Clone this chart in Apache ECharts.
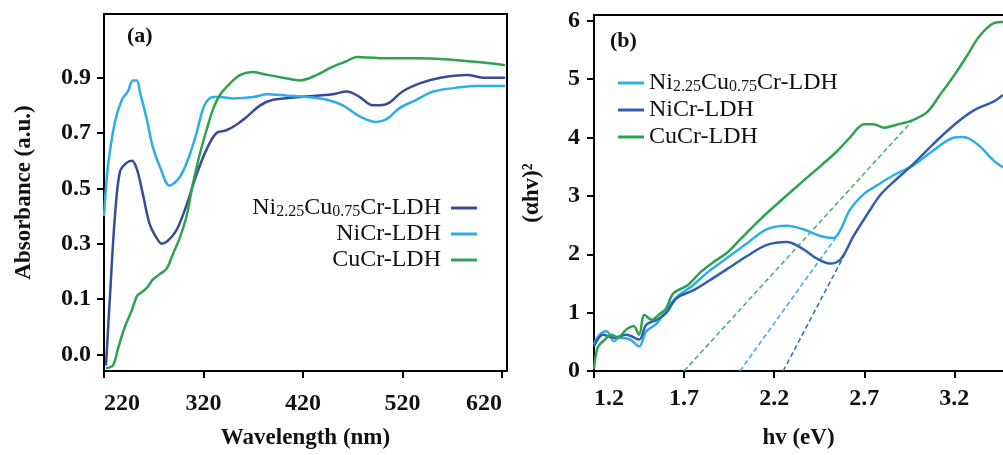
<!DOCTYPE html>
<html>
<head>
<meta charset="utf-8">
<script src="https://cdn.jsdelivr.net/npm/echarts@6/dist/echarts.min.js"></script>
<style>
  html, body { margin: 0; padding: 0; background: #fff; }
  #chart { width: 1003px; height: 455px; }
</style>
</head>
<body>
<div id="chart"></div>
<script>
// (a) UV-vis absorbance
const wlNiCu = [222, 226, 231, 236, 242, 248, 253, 259, 266, 273, 278, 284, 293, 303, 313, 323, 333, 343, 353, 364, 377, 390, 417, 450, 464, 477, 490, 497, 507, 520, 538, 558, 585, 601, 623]
const absNiCu = [-0.14, 0.11, 0.40, 0.56, 0.59, 0.60, 0.57, 0.48, 0.37, 0.32, 0.30, 0.31, 0.35, 0.44, 0.55, 0.64, 0.70, 0.71, 0.73, 0.76, 0.80, 0.82, 0.83, 0.84, 0.85, 0.83, 0.80, 0.80, 0.81, 0.85, 0.88, 0.90, 0.91, 0.90, 0.90]
const wlNi = [220, 224, 231, 238, 244, 249, 253, 256, 263, 269, 276, 286, 296, 305, 313, 321, 330, 337, 350, 370, 384, 404, 424, 444, 460, 477, 494, 504, 517, 534, 551, 578, 595, 623]
const absNi = [0.40, 0.58, 0.74, 0.82, 0.85, 0.89, 0.89, 0.85, 0.75, 0.65, 0.58, 0.51, 0.54, 0.61, 0.70, 0.80, 0.83, 0.83, 0.825, 0.83, 0.84, 0.835, 0.83, 0.82, 0.80, 0.76, 0.74, 0.75, 0.79, 0.82, 0.85, 0.865, 0.87, 0.87]
const wlCu = [222, 229, 234, 241, 248, 253, 256, 263, 269, 276, 283, 289, 296, 303, 309, 316, 323, 330, 337, 347, 357, 370, 384, 400, 417, 434, 450, 464, 474, 500, 534, 568, 601, 623]
const absCu = [-0.15, -0.14, -0.08, 0.0, 0.06, 0.11, 0.12, 0.14, 0.17, 0.19, 0.21, 0.26, 0.32, 0.40, 0.51, 0.62, 0.71, 0.79, 0.84, 0.88, 0.91, 0.92, 0.91, 0.90, 0.89, 0.91, 0.94, 0.96, 0.975, 0.97, 0.97, 0.965, 0.955, 0.945]

// (b) Tauc plot
const evNiCu = [1.20, 1.23, 1.27, 1.31, 1.34, 1.40, 1.45, 1.49, 1.55, 1.60, 1.66, 1.75, 1.83, 1.94, 2.05, 2.16, 2.27, 2.36, 2.46, 2.53, 2.57, 2.62, 2.70, 2.77, 2.86, 2.97, 3.08, 3.20, 3.25, 3.33, 3.42, 3.47]
const taucNiCu = [0.46, 0.62, 0.68, 0.51, 0.57, 0.54, 0.42, 0.68, 0.82, 1.05, 1.27, 1.47, 1.69, 1.94, 2.19, 2.43, 2.49, 2.43, 2.31, 2.28, 2.43, 2.76, 3.04, 3.18, 3.35, 3.52, 3.77, 4.00, 4.01, 3.88, 3.60, 3.49]
const evNi = [1.20, 1.25, 1.31, 1.38, 1.45, 1.49, 1.55, 1.60, 1.66, 1.75, 1.84, 1.94, 2.05, 2.16, 2.27, 2.36, 2.44, 2.51, 2.57, 2.64, 2.72, 2.79, 2.88, 2.97, 3.08, 3.20, 3.31, 3.42, 3.47]
const taucNi = [0.42, 0.62, 0.57, 0.62, 0.54, 0.79, 0.88, 0.99, 1.25, 1.38, 1.55, 1.75, 1.97, 2.16, 2.21, 2.09, 1.92, 1.84, 1.92, 2.31, 2.70, 3.02, 3.29, 3.54, 3.88, 4.22, 4.47, 4.62, 4.73]
const evCu = [1.20, 1.22, 1.25, 1.30, 1.33, 1.38, 1.42, 1.45, 1.48, 1.52, 1.57, 1.60, 1.64, 1.72, 1.79, 1.86, 1.94, 2.01, 2.12, 2.23, 2.34, 2.46, 2.55, 2.62, 2.70, 2.75, 2.81, 2.88, 2.97, 3.05, 3.12, 3.20, 3.27, 3.34, 3.42, 3.47]
const taucCu = [0.03, 0.40, 0.51, 0.62, 0.57, 0.71, 0.77, 0.62, 0.96, 0.88, 0.99, 1.07, 1.33, 1.47, 1.69, 1.86, 2.03, 2.25, 2.59, 2.90, 3.20, 3.52, 3.77, 4.00, 4.23, 4.23, 4.17, 4.22, 4.30, 4.44, 4.73, 5.07, 5.40, 5.74, 5.96, 5.98]

// tangent lines (extrapolation to the band gap)
const tangentCu = [[1.70, 0], [2.97, 4.30]]
const tangentNiCu = [[2.01, 0], [2.55, 2.32]]
const tangentNi = [[2.25, 0], [2.60, 2.05]]

// ticks
const xTicksA = [220, 320, 420, 520, 620]
const yTicksA = [-0.1, 0.1, 0.3, 0.5, 0.7, 0.9]
const yLabelsA = ['0.0', '0.1', '0.3', '0.5', '0.7', '0.9']
const xTicksB = [1.2, 1.7, 2.2, 2.7, 3.2]

const names = ['Ni2.25Cu0.75Cr-LDH', 'NiCr-LDH', 'CuCr-LDH']

const serif = 'Liberation Serif'
const ink = '#111'

const zip = (xs, ys) => xs.map((x, i) => [x, ys[i]])

// 图例文字：下标用小字号
const richName = name => {
  const n = name.replace(/^b:/, '')
  if (n === 'Ni2.25Cu0.75Cr-LDH') return '{n|Ni}{s|2.25}{n|Cu}{s|0.75}{n|Cr-LDH}'
  return '{n|' + n + '}'
}
const legendRich = {
  n: { fontFamily: serif, fontSize: 24, color: ink },
  s: { fontFamily: serif, fontSize: 16, color: ink, verticalAlign: 'bottom' }
}

const axisLineStyle = { color: '#000', width: 2 }
const labelStyle = { fontFamily: serif, fontWeight: 'bold', fontSize: 24, color: ink }
const nameStyle = { fontFamily: serif, fontWeight: 'bold', fontSize: 23, color: ink }

const lineSeries = (name, data, color, idx) => ({
  name: name,
  type: 'line',
  xAxisIndex: idx,
  yAxisIndex: idx,
  data: data,
  symbol: 'none',
  smooth: 0.35,
  lineStyle: { width: 2.5, color: color },
  itemStyle: { color: color },
  z: 3
})

const dashSeries = (name, data, color) => ({
  name: name,
  type: 'line',
  xAxisIndex: 1,
  yAxisIndex: 1,
  data: data,
  symbol: 'none',
  lineStyle: { width: 1.6, color: color, type: [5, 3] },
  z: 2
})

const cDarkA = '#3b4a96'
const cLight = '#2eaee6'
const cGreen = '#2ea24f'
const cDarkB = '#3060ad'

const chart = echarts.init(document.getElementById('chart'))

const option = {
  animation: false,
  backgroundColor: '#fff',
  title: [
    { text: '(a)', left: 127, top: 25, padding: 0, textStyle: { fontFamily: serif, fontWeight: 'bold', fontSize: 22, color: ink } },
    { text: '(b)', left: 610, top: 30, padding: 0, textStyle: { fontFamily: serif, fontWeight: 'bold', fontSize: 22, color: ink } }
  ],
  legend: [
    {
      data: names,
      orient: 'vertical',
      align: 'right',
      right: 526,
      top: 196,
      padding: 0,
      itemGap: 2,
      itemWidth: 26,
      itemHeight: 3,
      icon: 'rect',
      selectedMode: false,
      formatter: richName,
      textStyle: { padding: [0, 5, 0, 0], rich: legendRich }
    },
    {
      data: names.map(n => 'b:' + n),
      orient: 'vertical',
      align: 'left',
      left: 618,
      top: 71,
      padding: 0,
      itemGap: 3,
      itemWidth: 26,
      itemHeight: 3,
      icon: 'rect',
      selectedMode: false,
      formatter: richName,
      textStyle: { rich: legendRich }
    }
  ],
  grid: [
    { left: 104, right: 496, top: 14, bottom: 80, show: true, borderColor: '#000', borderWidth: 2 },
    { left: 594, right: 0, top: 15, bottom: 78 }
  ],
  xAxis: [
    {
      gridIndex: 0,
      type: 'value',
      min: 220,
      max: 625,
      name: 'Wavelength (nm)',
      nameLocation: 'middle',
      nameGap: 56,
      nameTextStyle: nameStyle,
      axisLine: { onZero: false, lineStyle: axisLineStyle },
      axisTick: { length: 7, lineStyle: axisLineStyle, customValues: xTicksA },
      axisLabel: Object.assign({ margin: 21, customValues: xTicksA, alignMinLabel: 'left', alignMaxLabel: 'right' }, labelStyle),
      splitLine: { show: false }
    },
    {
      gridIndex: 1,
      type: 'value',
      min: 1.2,
      max: 3.47,
      name: 'hv (eV)',
      nameLocation: 'middle',
      nameGap: 56,
      nameTextStyle: nameStyle,
      axisLine: { onZero: false, lineStyle: axisLineStyle },
      axisTick: { length: 7, lineStyle: axisLineStyle, customValues: xTicksB },
      axisLabel: Object.assign({ margin: 16, customValues: xTicksB, alignMinLabel: 'left', formatter: v => v.toFixed(1) }, labelStyle),
      splitLine: { show: false }
    },
    {
      // 顶部边框线 (b)
      gridIndex: 1,
      type: 'value',
      position: 'top',
      min: 1.2,
      max: 3.47,
      axisLine: { onZero: false, lineStyle: axisLineStyle },
      axisTick: { show: false },
      axisLabel: { show: false },
      splitLine: { show: false }
    }
  ],
  yAxis: [
    {
      gridIndex: 0,
      type: 'value',
      min: -0.16,
      max: 1.13,
      name: 'Absorbance (a.u.)',
      nameLocation: 'middle',
      nameGap: 68,
      nameTextStyle: nameStyle,
      axisLine: { onZero: false, lineStyle: axisLineStyle },
      axisTick: { length: 7, lineStyle: axisLineStyle, customValues: yTicksA },
      axisLabel: Object.assign({
        margin: 13,
        customValues: yTicksA,
        formatter: v => {
          const i = yTicksA.findIndex(t => Math.abs(t - v) < 1e-6)
          return i >= 0 ? yLabelsA[i] : ''
        }
      }, labelStyle),
      splitLine: { show: false }
    },
    {
      gridIndex: 1,
      type: 'value',
      min: 0,
      max: 6.1,
      interval: 1,
      name: '(αhv)²',
      nameLocation: 'middle',
      nameGap: 50,
      nameTextStyle: nameStyle,
      axisLine: { onZero: false, lineStyle: axisLineStyle },
      axisTick: { length: 7, lineStyle: axisLineStyle },
      axisLabel: Object.assign({ margin: 14, showMaxLabel: false }, labelStyle),
      splitLine: { show: false }
    }
  ],
  series: [
    lineSeries(names[0], zip(wlNiCu, absNiCu), cDarkA, 0),
    lineSeries(names[1], zip(wlNi, absNi), cLight, 0),
    lineSeries(names[2], zip(wlCu, absCu), cGreen, 0),
    dashSeries('tangent-CuCr', tangentCu, '#4cb36b'),
    dashSeries('tangent-NiCu', tangentNiCu, '#45b0e0'),
    dashSeries('tangent-Ni', tangentNi, '#3a6fb8'),
    lineSeries('b:' + names[0], zip(evNiCu, taucNiCu), cLight, 1),
    lineSeries('b:' + names[1], zip(evNi, taucNi), cDarkB, 1),
    lineSeries('b:' + names[2], zip(evCu, taucCu), cGreen, 1)
  ]
}

chart.setOption(option)
window.addEventListener('resize', () => chart.resize())
</script>
</body>
</html>
